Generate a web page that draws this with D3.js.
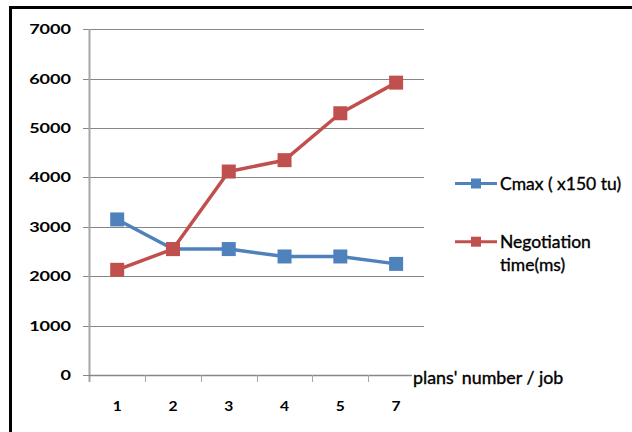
<!DOCTYPE html>
<html><head><meta charset="utf-8">
<script src="https://cdn.jsdelivr.net/npm/d3@7"></script>
<style>html,body{margin:0;padding:0;background:#fff}svg{display:block}text{font-family:Lato,"Open Sans",sans-serif;fill:#000}</style>
</head><body>
<svg id="c" width="632" height="432"></svg>
<script>
const categories = ["1","2","3","4","5","7"];
const cmax = [3150,2550,2550,2400,2400,2250];
const negotiation = [2130,2550,4120,4350,5300,5920];
const yTicks = [0,1000,2000,3000,4000,5000,6000,7000];
const seriesNames = ["Cmax ( x150 tu)", "Negotiation time(ms)"];
const xTitle = "plans' number / job";
const colors = ["#4F81BD","#C0504D"];

const svg = d3.select("#c");
svg.append("rect").attr("x",10.5).attr("y",7.5).attr("width",800).attr("height",600)
  .attr("fill","none").attr("stroke","#000").attr("stroke-width",3);

const x = d3.scaleBand().domain(categories).range([89.3,424]).padding(0);
const y = d3.scaleLinear().domain([0,7000]).range([375,29.3]);

// gridlines
svg.append("g").selectAll("line").data(yTicks.filter(d=>d>0)).join("line")
  .attr("x1",83).attr("x2",424).attr("y1",d=>Math.round(y(d))+0.5).attr("y2",d=>Math.round(y(d))+0.5)
  .attr("stroke","#868686").attr("stroke-width",1);

// y axis line
svg.append("line").attr("x1",89.5).attr("x2",89.5).attr("y1",y(7000)).attr("y2",382)
  .attr("stroke","#A6A6A6").attr("stroke-width",2);
svg.append("line").attr("x1",83).attr("x2",89).attr("y1",375.5).attr("y2",375.5).attr("stroke","#868686");
// x axis
svg.append("line").attr("x1",89).attr("x2",424).attr("y1",375.5).attr("y2",375.5)
  .attr("stroke","#868686").attr("stroke-width",1.5);
const bounds = categories.map(c=>x(c)).concat([x(categories[categories.length-1])+x.bandwidth()]);
svg.append("g").selectAll("line").data(bounds.slice(1)).join("line")
  .attr("x1",d=>Math.round(d)+0.5).attr("x2",d=>Math.round(d)+0.5).attr("y1",375).attr("y2",382)
  .attr("stroke","#A6A6A6").attr("stroke-width",1);

// y labels
svg.append("g").selectAll("g").data(yTicks).join("g")
  .attr("transform",d=>`translate(71,${y(d)+5}) scale(1.29,1)`)
  .append("text").attr("text-anchor","end").attr("font-size",14).attr("font-weight","bold").text(d=>d);

// x labels
svg.append("g").selectAll("g").data(categories).join("g")
  .attr("transform",d=>`translate(${x(d)+x.bandwidth()/2},411) scale(1.2,1)`)
  .append("text").attr("text-anchor","middle").attr("font-size",13).attr("font-weight","bold").text(d=>d);

// series
const line = d3.line().x((d,i)=>x(categories[i])+x.bandwidth()/2).y(d=>y(d));
[cmax,negotiation].forEach((vals,k)=>{
  svg.append("path").attr("d",line(vals)).attr("fill","none").attr("stroke",colors[k])
    .attr("stroke-width",3.5).attr("stroke-linejoin","round");
  svg.append("g").selectAll("rect").data(vals).join("rect")
    .attr("x",(d,i)=>x(categories[i])+x.bandwidth()/2-7).attr("y",d=>y(d)-7)
    .attr("width",14).attr("height",14).attr("fill",colors[k]);
});

// x title
const tg = svg.append("g").attr("transform","translate(413,383.5) scale(1.08,1)");
const bg = tg.append("rect").attr("fill","#fff");
const tt = tg.append("text").attr("font-size",16.5).attr("stroke","#000").attr("stroke-width",0.35).text(xTitle);
const bb = tt.node().getBBox();
bg.attr("x",bb.x-1).attr("y",bb.y).attr("width",bb.width+2).attr("height",bb.height);

// legend
const leg = [{y:183.5, lines:[seriesNames[0]]},{y:241.7, lines:["Negotiation","time(ms)"]}];
leg.forEach((l,k)=>{
  const g = svg.append("g");
  g.append("line").attr("x1",455).attr("x2",497).attr("y1",l.y).attr("y2",l.y).attr("stroke",colors[k]).attr("stroke-width",3);
  g.append("rect").attr("x",471).attr("y",l.y-5).attr("width",10).attr("height",10).attr("fill",colors[k]);
  l.lines.forEach((s,j)=>{
    g.append("text").attr("x",500).attr("y",l.y+6.5+j*22.7).attr("font-size",17.5)
      .attr("stroke","#000").attr("stroke-width",0.35).text(s);
  });
});
</script>
</body></html>
